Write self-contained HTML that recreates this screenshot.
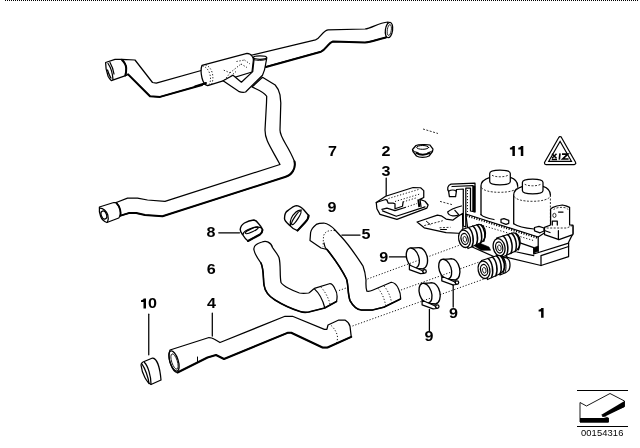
<!DOCTYPE html>
<html><head><meta charset="utf-8">
<style>
html,body{margin:0;padding:0;background:#fff;}
body{width:640px;height:448px;overflow:hidden;font-family:"Liberation Sans",sans-serif;}
svg{display:block;position:absolute;left:0;top:0;filter:grayscale(1);}
.l{fill:none;stroke:#000;stroke-width:1.250;stroke-linecap:round;stroke-linejoin:round;}
.w{fill:#fff;stroke:#000;stroke-width:1.250;stroke-linecap:round;stroke-linejoin:round;}
.b{fill:none;stroke:#000;stroke-width:2;stroke-linecap:round;stroke-linejoin:round;}
.t{fill:none;stroke:#000;stroke-width:0.8;}
.d{fill:none;stroke:#000;stroke-width:0.9;stroke-dasharray:1.2 1.8;}
.dd{fill:none;stroke:#000;stroke-width:0.8;stroke-dasharray:2 1.5;}
.k{fill:#000;stroke:#000;stroke-width:0.6;}
text{font-family:"Liberation Sans",sans-serif;font-weight:bold;font-size:13.800px;fill:#000;text-anchor:middle;}
</style></head><body>
<svg width="640" height="448" viewBox="0 0 640 448">
<rect width="640" height="448" fill="#fff"/>
<!-- top dotted border -->
<line x1="5" y1="0.5" x2="638" y2="0.5" stroke="#000" stroke-width="1" stroke-dasharray="1 1"/>

<!-- ===== HOSE 7 (upper assembly) ===== -->
<g id="h7">
<!-- down pipe + lower run -->
<path class="w" d="M252,87 C259,90 264.500,93 266.700,96.250 L266.500,103 L265,130 C265,140 270,146 280,164.500 L165,201.400 L147.500,200 L137.500,198.100 L127.500,198.100 L116.250,202.500 L120.600,215.600 L128.750,213.100 L136.250,213.100 L145,215 L162.500,216.250 L285,177 C292,175 296,168.500 294.500,161.500 C288,145 280,138 280,130 L280.800,103 L280,94.900 C279,90 277,87 275.200,85 L262.500,77.300 Z"/>
<!-- lower-left end cap -->
<path class="w" d="M99.400,207 L113.750,202.500 L116.250,202.500 C118.500,205 119.700,207.500 120.200,210 C120.700,212 120.700,213.500 120.600,215 L118.750,218 L106.900,222.500 C104,221.500 101.500,219 100.600,216.250 C99.500,213 99,210 99.400,207 Z"/>
<path fill="none" stroke="#000" stroke-width="1.800" stroke-linecap="round" d="M116.300,202.800 C118.500,205 119.700,207.500 120.200,210 C120.600,212 120.600,214 120.300,215.500"/>
<path class="l" d="M100,208 C103,208 106.500,211 107.800,215 C108.500,217.500 108.300,220 107.500,222"/>
<ellipse class="l" cx="103.900" cy="215" rx="2.600" ry="4.200" transform="rotate(-20 103.900 215)"/>
<!-- main upper hose left part -->
<path class="w" d="M121.900,59.400 L135,60 L152.500,82.500 L156.250,83.100 L203,70 L205,84 L160,96.900 L150,96.250 L128.100,74.400 L125.600,75.600 Z"/>
<!-- left end cap -->
<path class="w" d="M105.600,62.500 L115,59.400 L121.900,59.400 C124.500,62 126,65 126.250,68.100 C126.400,71 126,73.500 125.600,75.600 L111.250,80.600 C110,79.500 109,78 108.100,76.250 C106.500,72 105.500,67 105.600,62.500 Z"/>
<path fill="none" stroke="#000" stroke-width="2" stroke-linecap="round" d="M122,60 C124.800,62.500 126,65.500 126.200,68.100 C126.300,71 126,73.500 125.300,75.300"/>
<path class="l" d="M108,63.500 C110.500,67 112.500,73 113,79.500 M110,62.500 C112,66 113.500,70 114,74 M107.500,70 C108.500,73 109.500,76 111,78"/>
<!-- right part of upper hose -->
<path class="w" d="M250,55.500 L315.500,39.800 C321,38 322,31 328,29.800 L365,29 C372,28 378,23 388,22 L386,37.500 C378,39 372,42 365,42.500 L333,41.500 C328,43 326,49.500 321,51.700 L262,67.800 Z"/>
<ellipse class="w" cx="389" cy="30" rx="3.600" ry="7.800" transform="rotate(8 389 30)"/>
<ellipse class="t" cx="389.300" cy="30" rx="2" ry="5.500" transform="rotate(8 389.300 30)"/>
<!-- junction block -->
<path class="w" d="M202,65.300 L247,53.400 C249.500,53.500 251.300,54.800 252.300,56.500 C253,57.500 253.400,59 253.400,60 L252,72 L223.100,80.800 L207.700,85.700 C205,85 203,82 202,78 C201,74 201,68 202,65.300 Z"/>
<path class="d" d="M202.500,66 C205.500,66.500 208.500,69.500 209.750,73.750 C211,78 210.800,82.500 208.500,85.500"/>
<path class="d" d="M205.500,65 C208.500,65.800 211,68.500 212.300,73 C213.300,77 213,81.500 211.500,84.500"/>
<path class="d" d="M223.800,70.200 L230,72.800 M224.500,80.500 L230,72.800 M230,72.800 L241,64 M226,80 L236,71.500 M241,64 L247,67.500 M236.500,61.500 L244.500,60 M244.500,60 L250,64"/>
<!-- branch tube -->
<path class="w" d="M223.100,80.800 L238.600,91.300 C241,92.300 243.500,92.500 245.600,92 L262.500,75.200 C264,72 265,69 265.300,66 L266.700,58.300 L266.700,57.600 L253.400,57.600 L254,59.700 L252.700,71.600 L241.400,82.200 L233,75.200 Z"/>
<ellipse class="w" cx="260" cy="57.600" rx="6.600" ry="1.700"/>
<path class="l" d="M254,59.700 C257,60.800 262,60.800 266,59.500" style="stroke-width:0.900"/>
<path class="b" d="M128.100,74.400 L150,96.250 L160,96.900 L202,85"/>
<path class="b" d="M266,67 L321,51.700 C326,49.500 328,43 333,41.500 L365,42.500 C372,42 378,39 386,37.500"/>
<path class="b" d="M120.600,215.600 L128.750,213.100 L136.250,213.100 L145,215 L162.500,216.250 L285,177 C292,175 296,168.500 294.500,161.500"/>
<path class="b" d="M195,86.400 L206,83"/>
</g>


<!-- ===== dotted guide lines ===== -->
<g id="guides">
<path class="d" d="M367.500,279 L460,245"/>
<path class="d" d="M339,290.500 L347.500,287.500"/>
<path class="d" d="M401,290 L496,256"/>
<path class="d" d="M352.500,326 L484,279"/>
</g>

<!-- ===== HOSE 6 ===== -->
<g id="h6">
<path class="w" d="M254,250 C255,255 258,259 261,263 C264,270 263,278 264,285 C265,292 270,297 275,300 C283,305 292,309 300,311.500 C303,312.500 306,312.500 308.750,312 L324.700,308 L336.500,301.500 C337.500,297 337,292 335,289 C333.500,285.500 331.500,283.500 329.400,283.750 L314.400,288.400 C312,290 310.500,292 308.750,293 C305,293.500 302,293.500 299.400,293 C293,291 283,286 281,282.500 C279.500,275 281,265 279,257.500 C277,253 274,250 272.500,247.500 C271,242 266,240.500 262,242 C257,243.500 253,246 254,250 Z"/>
<path class="l" d="M314.400,288.900 C319,293 323,301 324.700,307.500"/>
<path class="d" d="M321,287.200 C325.500,292 329,299 330.300,305.300"/>
<path class="b" d="M261,263 C264,270 263,278 264,285 C265,292 270,297 275,300 C283,305 292,309 300,311.500 C303,312.500 306,312.500 308.750,312 L324.700,308 L336.500,301.500" style="stroke-width:1.600"/>
</g>

<!-- ===== HOSE 5 ===== -->
<g id="h5">
<path class="w" d="M310,240.500 L321,248 L327,249.500 C333,257 341,268 346.500,279 C348.500,285 347.500,293 350,300.600 C353,306 357,309.500 361.250,310 L372.500,310 L383.750,307.200 L400.500,299 C400.800,295 400,292 398.750,289.400 C397,285 394,282.500 391.250,282.250 L372.500,290.300 C370,291.500 368,291.500 366.900,291.250 C365.500,288 366,283 366,280 C365.500,275 364.500,270 363,266 C357,257 350,246 341.500,237 L335,230 C331,225.500 327,223.500 323.750,223 C321,223 318,223.500 316.250,224.400 C313,227 311,230 310.600,232.500 Z"/>
<path class="d" d="M335,230.600 C331,230.300 328.500,230.800 327,231.500 C324.500,233 323.500,235 323.500,237 L323,246.500"/>
<path class="l" d="M324,243 C324.500,246 325.500,248.500 327,249.500"/>
<path class="d" d="M378,288.400 C382,293 384.500,299 385.600,305.300"/>
<path class="d" d="M384,286 C388,290.500 390.500,296.500 391.500,302.500"/>
<path class="b" d="M327,249.500 C333,257 341,268 346.500,279 C348.500,285 347.500,293 350,300.600 C353,306 357,309.500 361.250,310 L372.500,310 L383.750,307.200 L400.500,299" style="stroke-width:1.600"/>
</g>

<!-- ===== HOSE 4 ===== -->
<g id="h4">
<path class="w" d="M170,350 L209,337.500 C211,337.500 212.500,338 214,339 L220,342.500 L285,316.250 L292.500,316.250 L324.400,329.400 L326.900,329.400 L328,325 L338.750,320 L345,320 C347.500,321.500 349.500,324 350,326.250 L351.250,336.900 L327.500,347.500 L322.500,347.500 L291.250,332.750 C290,332.500 289,332.500 287.500,332.800 L224,359 L216,355 L207.500,357.500 L177.500,372.500 C172,372 167,358 170,350 Z"/>
<ellipse class="l" cx="174" cy="361" rx="4.200" ry="10.500" transform="rotate(-18 174 361)"/>
<ellipse class="t" cx="174.500" cy="361.500" rx="2.800" ry="8" transform="rotate(-18 174.500 361.500)"/>
<path class="d" d="M331.250,325.600 C335,329 337.500,334 337.500,337.500 C337.500,340 337,342 336.250,343.750"/>
<path class="l" d="M197.500,357 L197.500,361.500" style="stroke-width:1"/>
<path class="b" d="M177.500,372.500 L207.500,357.500 L216,355 L224,359 L287.500,332.800 L291.250,332.750 L322.500,347.500 L327.500,347.500 L351.250,336.900"/>
</g>

<!-- ===== RING 8 ===== -->
<g id="r8" style="stroke-width:1.400">
<path class="w" style="stroke-width:1.400" d="M240.200,229.500 C240.500,226.500 242,224.500 244.400,223 C247,221.500 250,220.300 253.750,220 C255.500,220.300 257,221.500 258,223 C260,225 262,227.500 262.500,230 C262.300,232 261.500,233.500 260,234.500 L248,241 C246,239.500 244,237 242.500,234.500 C241,232.500 240.200,231 240.200,229.500 Z"/>
<path class="l" style="stroke-width:1.300" d="M243,234.300 C243.500,231.500 247,229.500 252,228 C256,226.800 260,226.800 262,228.300"/>
<ellipse class="l" cx="251.800" cy="230.300" rx="6.900" ry="1.600" transform="rotate(-25 251.800 230.300)"/>
<path class="b" d="M248,241 L260,234.500 C261.500,233.500 262.300,232 262.500,230"/>
</g>
<line class="l" x1="218.750" y1="232.750" x2="239.500" y2="232.750"/>

<!-- ===== RING 9 (top) ===== -->
<g id="r9">
<path class="w" style="stroke-width:1.400" d="M284.500,218.500 C284.500,214 286,211.500 288,210.500 C290.500,208.500 293,206.200 296.250,205.600 C299,205.600 301.500,207.500 303.500,209.500 L308.600,215.500 C308.600,218 307,220.500 305,222.500 L297.500,230.600 C295,230 292,228 290,225.600 C287,223 284.500,221 284.500,218.500 Z"/>
<path class="l" style="stroke-width:1.300" d="M290.500,225.500 C289.500,221 292,215.500 296,212 C298,210.300 300,209.800 301.500,210.200"/>
<ellipse class="l" cx="296.300" cy="217.800" rx="8" ry="1.800" transform="rotate(-56.500 296.300 217.800)"/>
<path class="b" d="M297.500,230.600 L305,222.500 C307,220.500 308.600,218 308.600,215.500"/>
</g>

<!-- ===== RING 10 ===== -->
<g id="r10">
<path class="w" d="M141,365 C141,363 142,362.500 143,362 L152.500,358 C157,358 160,368 161,380 L151,384.500 C147,383 142,374 141,365 Z"/>
<path class="l" d="M144.500,362.500 C148,366 151,376 151,384"/>
<path class="l" d="M142,364 C145,368 148.500,378 149,383.500"/>
</g>
<line class="l" x1="148.750" y1="314.200" x2="148.750" y2="354.800"/>
<line class="l" x1="212.300" y1="313.100" x2="212.300" y2="336"/>
<line class="l" x1="341.900" y1="235" x2="360" y2="235"/>

<!-- ===== CLAMPS 9 ===== -->
<g id="c9a">
<ellipse class="w" cx="421" cy="258.200" rx="6.300" ry="10.600" transform="rotate(-12 421 258.200)" style="stroke-width:1.350"/>
<path d="M410.800,248.200 L419,247.700 L423.200,268.800 L415,268.300 Z" fill="#fff" stroke="none"/>
<path class="l" d="M410.800,248.200 L419,247.700 M415,268.300 L423.200,268.800" style="stroke-width:1.350"/>
<ellipse class="w" cx="412.800" cy="258" rx="6" ry="10.300" transform="rotate(-18 412.800 258)" style="stroke-width:1.350"/>
<path class="w" d="M409.400,265 L409.400,269.700 L420.400,273.600 L424,273.300 L422,270.500 Z"/>
<circle class="w" cx="424.600" cy="271.400" r="1.700"/>
</g>
<line class="l" x1="389.400" y1="256.900" x2="406.400" y2="256.900"/>
<g id="c9b" transform="translate(32.400,11.200)">
<ellipse class="w" cx="421" cy="258.200" rx="6.300" ry="10.600" transform="rotate(-12 421 258.200)" style="stroke-width:1.350"/>
<path d="M410.800,248.200 L419,247.700 L423.200,268.800 L415,268.300 Z" fill="#fff" stroke="none"/>
<path class="l" d="M410.800,248.200 L419,247.700 M415,268.300 L423.200,268.800" style="stroke-width:1.350"/>
<ellipse class="w" cx="412.800" cy="258" rx="6" ry="10.300" transform="rotate(-18 412.800 258)" style="stroke-width:1.350"/>
<path class="w" d="M409.400,265 L409.400,269.700 L420.400,273.600 L424,273.300 L422,270.500 Z"/>
<circle class="w" cx="424.600" cy="271.400" r="1.700"/>
</g>
<line class="l" x1="453.200" y1="285.300" x2="453.200" y2="307"/>
<g id="c9c" transform="translate(12.700,35.200)">
<ellipse class="w" cx="421" cy="258.200" rx="6.300" ry="10.600" transform="rotate(-12 421 258.200)" style="stroke-width:1.350"/>
<path d="M410.800,248.200 L419,247.700 L423.200,268.800 L415,268.300 Z" fill="#fff" stroke="none"/>
<path class="l" d="M410.800,248.200 L419,247.700 M415,268.300 L423.200,268.800" style="stroke-width:1.350"/>
<ellipse class="w" cx="412.800" cy="258" rx="6" ry="10.300" transform="rotate(-18 412.800 258)" style="stroke-width:1.350"/>
<path class="w" d="M409.400,265 L409.400,269.700 L420.400,273.600 L424,273.300 L422,270.500 Z"/>
<circle class="w" cx="424.600" cy="271.400" r="1.700"/>
</g>
<line class="l" x1="429.400" y1="309.400" x2="429.400" y2="331"/>
<defs>
<clipPath id="cpa"><ellipse cx="412.800" cy="258" rx="5.400" ry="9.700" transform="rotate(-12 412.800 258)"/></clipPath>
<clipPath id="cpb"><ellipse cx="445.200" cy="269.200" rx="5.400" ry="9.700" transform="rotate(-12 445.200 269.200)"/></clipPath>
<clipPath id="cpc"><ellipse cx="425.500" cy="293.200" rx="5.400" ry="9.700" transform="rotate(-12 425.500 293.200)"/></clipPath>
</defs>
<path class="d" d="M367.500,279 L460,245" clip-path="url(#cpa)"/>
<path class="d" d="M401,290 L496,256" clip-path="url(#cpb)"/>
<path class="d" d="M352.500,326 L484,279" clip-path="url(#cpc)"/>



<!-- ===== PART 2 grommet ===== -->
<g id="p2">
<path class="w" d="M412.500,149.500 L416,145.500 C418,144.300 428,144.300 430,145 L433,149 L432.500,151.500 L429,156 C426,157.800 419,157.800 416.500,156 L413,151.500 Z"/>
<ellipse class="l" cx="422.700" cy="147.400" rx="6" ry="1.900" style="stroke-width:1"/>
<path class="l" d="M413,150.500 C415,152 417,152.500 418,152.500 M432.500,150.500 C431,152 429,152.500 428,152.500" style="stroke-width:1"/>
<path class="b" d="M416.500,153 C419.500,155.200 426,155.200 429.500,153"/>
<path class="dd" d="M423,129 L438,133.500"/>
</g>

<!-- ===== PART 3 clip ===== -->
<g id="p3">
<path class="w" d="M376.250,202.500 L385.600,196.250 L413.100,187.500 L420.600,187.750 L423.750,190.600 L423.750,197.500 L420,199.400 L425,201.250 L428.100,205 L426.900,208.100 L396.900,219.400 L380,214.400 L376.900,208.750 Z"/>
<path class="l" d="M386.900,200 L388.100,203.100 L393.100,203.100 L395,203.750 L395,208.750 L402.500,206.250 L403.100,201.900"/>
<path class="l" d="M381.900,209.400 L386.900,208.100 L395,210.600 L405,207.500 M382.500,210.800 L396.250,216.250 L425,206.900"/>
<path class="l" d="M376.250,202.500 L385.600,199.500 L386.900,200"/>
<path class="d" d="M388.500,198.500 L418.500,189.500 M395,201.500 L420,194 M403.100,201.900 L417.500,197.500 M405,207.500 L417,203.500"/>
<path fill="none" stroke="#000" stroke-width="2" d="M418.300,199.400 L419.300,207"/>
<path class="l" d="M420,199.400 L421,206.500"/>
</g>
<line class="l" x1="386.200" y1="178" x2="386.200" y2="195.500"/>

<!-- ===== VALVE ASSEMBLY (1) ===== -->
<g id="valve">
<!-- gasket plate -->
<path class="w" d="M417.100,222 L437.400,215.200 L441.200,215.800 L446.100,219.100 L452.700,220.200 L458.100,216.300 L462.500,213.500 L463,233.500 L446.100,232.700 L424.200,227.800 Z"/>
<path class="dd" d="M424.200,225.600 L442.800,220.700 M439.500,227.800 L450.500,227.300"/>
<path class="l" d="M426.400,221.300 L430.200,224.500 M440.600,229.500 L446.500,229.500" style="stroke-width:1"/>
<path class="l" d="M461.400,206 C456,207.500 450,209.500 447.700,212 C448,214 450,215.500 452.700,215.800 C455,216 457,215.700 458.500,215 M454.900,210.300 L458.700,214.700"/>
<path class="dd" d="M440,201.400 L452,204.600"/>
<!-- bracket -->
<path class="w" d="M451,184.200 L475,183.200 L475,212 L470.500,211 L470.500,188 L465.800,188.200 L465.800,227 L463.300,226 L463.300,189 L456.400,189.500 L456.400,191.300 L455.600,196.700 L449.400,196.700 L448.600,191.300 C447,189 447.300,185.500 451,184.200 Z"/>
<path class="l" d="M448.600,191.300 C451,189.800 454.500,189.800 456.400,191.300 M452,186.500 L473,185.600"/>
<path class="k" d="M472.600,186 L475,186 L475,212 L472.600,211.500 Z"/>
<path class="d" d="M467.500,190 L467.500,212"/>
<!-- lower manifold / block -->
<path class="w" d="M465.800,214 L538.200,237 L552,228 L573,226 L573,233.400 L568.600,242.300 L568.600,256.600 L541,265.500 L507.900,257.500 L497,258 L470,246 Z"/>
<path class="l" d="M538.200,237 L538.200,251.300 M518.600,242.300 L533.750,247.700 L533.750,254 L568.600,243.200 M541,255.700 L541,265.500 M541,255.700 L568.600,246.500 M516.800,252 L533.750,255.700 M507.900,257.500 L500,252"/>
<path fill="none" stroke="#000" stroke-width="2.200" stroke-dasharray="1.100 1.500" d="M466.500,215.500 L537.500,237.800"/>
<path class="d" d="M483,225.600 L533.750,240.600"/>
<path class="k" d="M533.750,247.700 L538.200,246 L538.200,251.300 L533.750,253 Z"/>
<!-- solenoid 1 -->
<g transform="translate(0,0)">
<path d="M481,186 C481,181.500 486,178.500 490,177.300 L510.300,177.300 C514,178.500 517.700,181.500 517.700,186 L517.700,217 C517.700,221 510,223 499,222 C488,221 481,218 481,214.700 Z" fill="#fff" stroke="none"/>
<path class="l" d="M481,214.700 L481,186 C481,181.500 486,178.500 490,177.300 M510.300,177.300 C514,178.500 517.700,181.500 517.700,186" style="stroke-width:1.300"/>
<path class="dd" d="M517.700,186 L517.700,217"/>
<path class="w" d="M489.700,173.500 C489.700,171.300 494,170.200 500,170.200 C506,170.200 510.300,171.300 510.300,173.500 L510.300,181.500 C510.300,183.700 506,184.800 500,184.800 C494,184.800 489.700,183.700 489.700,181.500 Z"/>
<path class="dd" d="M492,175.300 C494,176.400 497,176.800 500,176.800 C503,176.800 506,176.400 508,175.300"/>
<path class="dd" d="M481.500,187.500 C483,190.500 490,192.300 499.500,192.300 C509,192.300 516,190.500 517.300,187.500"/>
</g>
<path class="l" d="M481,214.700 C483,217 488,218.500 494,219.500"/>
<!-- solenoid 2 -->
<g transform="translate(32.7,9)">
<path d="M481,186 C481,181.500 486,178.500 490,177.300 L510.300,177.300 C514,178.500 517.700,181.500 517.700,186 L517.700,217 C517.700,221 510,223 499,222 C488,221 481,218 481,214.700 Z" fill="#fff" stroke="none"/>
<path class="l" d="M481,214.700 L481,186 C481,181.500 486,178.500 490,177.300 M510.300,177.300 C514,178.500 517.700,181.500 517.700,186" style="stroke-width:1.300"/>
<path class="dd" d="M517.700,186 L517.700,217"/>
<path class="w" d="M489.700,173.500 C489.700,171.300 494,170.200 500,170.200 C506,170.200 510.300,171.300 510.300,173.500 L510.300,181.500 C510.300,183.700 506,184.800 500,184.800 C494,184.800 489.700,183.700 489.700,181.500 Z"/>
<path class="dd" d="M492,175.300 C494,176.400 497,176.800 500,176.800 C503,176.800 506,176.400 508,175.300"/>
<path class="dd" d="M481.500,187.500 C483,190.500 490,192.300 499.500,192.300 C509,192.300 516,190.500 517.300,187.500"/>
</g>
<path class="l" d="M513.700,223.700 C517,226 524,228 534,229"/>
<!-- small nubs -->
<path class="w" d="M501,219.400 L501,222.500 L506,224.300 L508.750,223.300 L508.750,220.300 L504,218.700 Z"/>
<path class="w" d="M534.500,227.500 L534.500,230.800 L540,232.800 L544,231 L544,228 L539,226.300 Z"/>
<!-- sensor connector -->
<path class="w" d="M544.500,227.300 L544.500,234.600 L559,239.600 L572.900,234.600 L572.900,225.100 L569.600,225 L569.600,207.300 L566,205.800 L562.300,205 L556.750,206 L553,207.300 L550.600,209 L550.600,225 Z"/>
<path class="dd" d="M546.700,228 L566.800,228 L572.900,225.300"/>
<path class="dd" d="M553.500,209.800 C555,207.800 560,207 564,207.500 C566,207.800 567.500,208.500 568,209.500"/>
<path class="l" d="M558.500,212 L563,212"/>
<ellipse class="t" cx="554.400" cy="215.400" rx="1.600" ry="2.100"/>
<path class="l" d="M552.300,225 L552.300,221.200 L557.300,221.200 L557.300,225"/>
<path class="l" d="M558.400,230.700 L558.400,239.600 M544.500,230.500 L550,232.500"/>
<!-- connectors -->
<g id="cn1">
<path class="w" d="M462,229.500 L478,224.500 C482.500,224 485.500,228 485.500,233 C485.500,238 483.500,241.500 480,243 L468,248.500 Z"/>
<path fill="none" stroke="#000" stroke-width="1.500" stroke-linecap="round" d="M468.500,227.500 C473,231 474.500,241 472,246.500 M472.800,226 C477.300,229.500 478.800,239.500 476.300,245 M477,224.800 C481.500,228.300 483,238 480.500,243.200 M481,225 C485,228.500 486,236.500 483.800,241.300"/>
<ellipse class="w" cx="464.500" cy="238.800" rx="5.800" ry="8.800" transform="rotate(-12 464.500 238.800)" style="stroke-width:1.300"/>
<ellipse class="l" cx="464.600" cy="239" rx="3.500" ry="5.600" transform="rotate(-12 464.600 239)"/>
<ellipse class="t" cx="464.800" cy="239.300" rx="1.700" ry="2.900" transform="rotate(-12 464.800 239.300)"/>
</g>
<g id="cn2" transform="translate(34.600,8.500)">
<path class="w" d="M462,229.500 L478,224.500 C482.500,224 485.500,228 485.500,233 C485.500,238 483.500,241.500 480,243 L468,248.500 Z"/>
<path fill="none" stroke="#000" stroke-width="1.500" stroke-linecap="round" d="M468.500,227.500 C473,231 474.500,241 472,246.500 M472.800,226 C477.300,229.500 478.800,239.500 476.300,245 M477,224.800 C481.500,228.300 483,238 480.500,243.200 M481,225 C485,228.500 486,236.500 483.800,241.300"/>
<ellipse class="w" cx="464.500" cy="238.800" rx="5.800" ry="8.800" transform="rotate(-12 464.500 238.800)" style="stroke-width:1.300"/>
<ellipse class="l" cx="464.600" cy="239" rx="3.500" ry="5.600" transform="rotate(-12 464.600 239)"/>
<ellipse class="t" cx="464.800" cy="239.300" rx="1.700" ry="2.900" transform="rotate(-12 464.800 239.300)"/>
</g>
<path class="w" d="M499,258.500 L505,257.500 C508,258 510,261 510,265 C510,269 508.500,271.500 506,272.500 L500,275 Z"/>
<path class="l" d="M503.500,258 C506,260 507,268 505,273" style="stroke-width:1"/>
<g id="cn3" transform="translate(19.500,31)">
<path class="w" d="M462,229.500 L478,224.500 C482.500,224 485.500,228 485.500,233 C485.500,238 483.500,241.500 480,243 L468,248.500 Z"/>
<path fill="none" stroke="#000" stroke-width="1.500" stroke-linecap="round" d="M468.500,227.500 C473,231 474.500,241 472,246.500 M472.800,226 C477.300,229.500 478.800,239.500 476.300,245 M477,224.800 C481.500,228.300 483,238 480.500,243.200 M481,225 C485,228.500 486,236.500 483.800,241.300"/>
<ellipse class="w" cx="464.500" cy="238.800" rx="5.800" ry="8.800" transform="rotate(-12 464.500 238.800)" style="stroke-width:1.300"/>
<ellipse class="l" cx="464.600" cy="239" rx="3.500" ry="5.600" transform="rotate(-12 464.600 239)"/>
<ellipse class="t" cx="464.800" cy="239.300" rx="1.700" ry="2.900" transform="rotate(-12 464.800 239.300)"/>
</g>
<path class="k" d="M474,245.500 L481,250.300 L490.600,250.300 L489,247 L480.500,243.500 Z"/>
</g>

<!-- ===== warning triangle ===== -->
<g id="tri">
<path d="M560.100,138.200 L574.200,163 L546,163 Z" fill="#fff" stroke="#000" stroke-width="4.300" stroke-linejoin="round"/>
<path d="M560.100,138.200 L574.200,163 L546,163 Z" fill="none" stroke="#fff" stroke-width="1.900" stroke-linejoin="round"/>
<path fill="none" stroke="#000" stroke-width="1.500" d="M552,153.800 L556.500,158.300 M556.500,153.800 L552,158.300 M551.700,159.400 L557,159.400"/>
<path fill="none" stroke="#000" stroke-width="1.600" d="M560,153.300 L559.300,159.600"/>
<path fill="none" stroke="#000" stroke-width="1.700" stroke-linejoin="miter" d="M562,154.200 L567.800,154.200 L562.800,159 L568.600,159"/>
</g>

<!-- ===== corner arrow icon ===== -->
<g id="icon">
<line x1="577" y1="390.500" x2="628" y2="390.500" stroke="#000" stroke-width="1"/>
<line x1="577" y1="426.500" x2="628" y2="426.500" stroke="#000" stroke-width="1"/>
<path d="M580,402.500 L586.500,406 L610,393.500 L624.500,401 L624.500,406.500 L602,416 L608.500,418 L608.500,422 L580,422 Z" fill="#fff" stroke="#000" stroke-width="0.900"/>
<path d="M580,418 L608.500,418 L608.500,422.500 L580,422.500 Z" fill="#000"/>
<path d="M624.500,401 L624.500,407 L605,416.500 L601,415 Z" fill="#000"/>
<text transform="translate(602.200,436.200) scale(1.130,1)" style="font-weight:normal;font-size:8.300px;letter-spacing:0.100px">00154316</text>
</g>

<!-- ===== labels ===== -->
<g id="labels">
<text transform="translate(332.500,156.000) scale(1.170,1)">7</text>
<text transform="translate(386.000,156.000) scale(1.170,1)">2</text>
<path d="M512.60,146.10 L514.90,146.10 L514.90,155.90 L512.40,155.90 L512.40,149.50 L509.90,149.50 L509.90,147.80 C511.30,147.70 512.10,147.10 512.60,146.10 Z" fill="#000"/><path d="M521.00,146.10 L523.30,146.10 L523.30,155.90 L520.80,155.90 L520.80,149.50 L518.30,149.50 L518.30,147.80 C519.70,147.70 520.50,147.10 521.00,146.10 Z" fill="#000"/>
<text transform="translate(386.100,176.100) scale(1.170,1)">3</text>
<text transform="translate(331.900,212.300) scale(1.170,1)">9</text>
<text transform="translate(211.000,237.300) scale(1.170,1)">8</text>
<text transform="translate(366.100,238.900) scale(1.170,1)">5</text>
<text transform="translate(383.700,261.500) scale(1.170,1)">9</text>
<text transform="translate(211.250,273.500) scale(1.170,1)">6</text>
<path d="M143.70,298.60 L146.00,298.60 L146.00,308.40 L143.50,308.40 L143.50,302.00 L141.00,302.00 L141.00,300.30 C142.40,300.20 143.20,299.60 143.70,298.60 Z" fill="#000"/><text transform="translate(152.400,308.400) scale(1.170,1)">0</text>
<text transform="translate(211.600,308.400) scale(1.170,1)">4</text>
<path d="M541.30,308.00 L543.60,308.00 L543.60,317.80 L541.10,317.80 L541.10,311.40 L538.60,311.40 L538.60,309.70 C540.00,309.60 540.80,309.00 541.30,308.00 Z" fill="#000"/>
<text transform="translate(453.400,317.800) scale(1.170,1)">9</text>
<text transform="translate(429.000,341.400) scale(1.170,1)">9</text>
</g>
</svg>
</body></html>
